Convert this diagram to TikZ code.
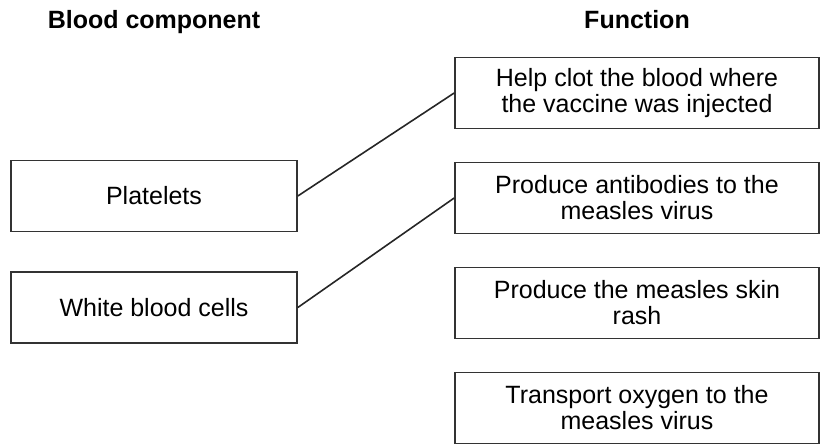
\documentclass[tikz,border=0pt]{standalone}
\usepackage{fontspec}
\setmainfont{Liberation Sans}
\begin{document}
\begin{tikzpicture}[x=0.5pt,y=-0.5pt,
    comp/.style={draw=black!80,line width=0.8pt,minimum width=143pt,minimum height=35.5pt,inner sep=0pt,font=\fontsize{12.5}{13}\selectfont},
    func/.style={draw=black!80,line width=0.8pt,minimum width=182pt,minimum height=35.5pt,inner sep=0pt,align=center,font=\fontsize{12.5}{13}\selectfont},
    head/.style={anchor=base,font=\bfseries\fontsize{12.5}{13}\selectfont},
    link/.style={draw=black!85,line width=0.8pt}]
    \useasboundingbox (0,0) rectangle (821,444);
    \node[head] (hcomp) at (154,29) {Blood component};
    \node[head] (hfunc) at (637,29) {Function};
    \node[comp] (plat) at (154,196) {Platelets};
    \node[comp] (wbc) at (154,307.5) {White blood cells};
    \node[func] (f1) at (637,93) {Help clot the blood where\\the vaccine was injected};
    \node[func] (f2) at (637,198) {Produce antibodies to the\\measles virus};
    \node[func] (f3) at (637,303) {Produce the measles skin\\rash};
    \node[func] (f4) at (637,408) {Transport oxygen to the\\measles virus};
    \draw[link] (plat.east) -- (f1.west);
    \draw[link] (wbc.east) -- (f2.west);
  \end{tikzpicture}
\end{document}
